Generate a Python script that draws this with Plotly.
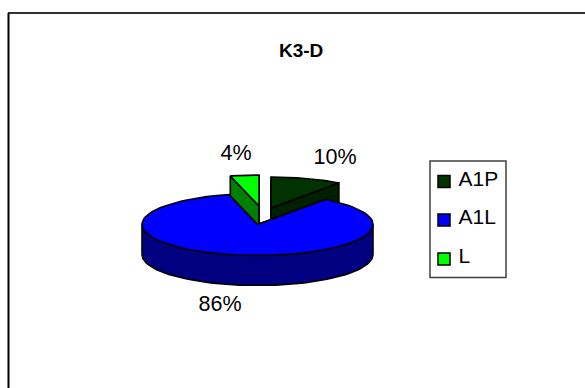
import math
import plotly.graph_objects as go

# Chart content
title = "K3-D"
categories = ["A1P", "A1L", "L"]
values = [10, 86, 4]
top_colors = ["#003300", "#0000FF", "#00FF00"]
wall_colors = ["#002000", "#000080", "#008000"]

# Pie geometry in pixels: the axes below run 1:1 with the page
RX, RY, DEPTH = 115.5, 31, 30
CENTERS = {"A1P": (271, 208), "A1L": (257.5, 224.5), "L": (259, 206)}
LABEL_POS = {"A1P": (335, 159), "A1L": (220, 306), "L": (236, 155)}


def rim(cx, cy, a, b, n=80):
    """Points on the ellipse rim between clockwise angles a and b (degrees from 12 o'clock)."""
    pts = []
    for i in range(n + 1):
        t = math.radians(a + (b - a) * i / n)
        pts.append((cx + RX * math.sin(t), cy - RY * math.cos(t)))
    return pts


def polygon(fig, pts, color):
    xs = [p[0] for p in pts] + [pts[0][0]]
    ys = [p[1] for p in pts] + [pts[0][1]]
    fig.add_trace(go.Scatter(x=xs, y=ys, mode="lines", fill="toself", fillcolor=color,
                             line=dict(color="black", width=1.6), hoverinfo="skip", showlegend=False))


def draw_slice(fig, name, a, b, top, wall):
    cx, cy = CENTERS[name]
    arc = rim(cx, cy, a, b)
    # Radial cut walls first, then the outer wall where it faces the viewer, then the top face
    for ang in (a, b):
        edge = rim(cx, cy, ang, ang, 1)[0]
        polygon(fig, [(cx, cy), edge, (edge[0], edge[1] + DEPTH), (cx, cy + DEPTH)], wall)
    lo, hi = max(a, 90), min(b, 270)
    if hi > lo:
        front = rim(cx, cy, lo, hi)
        polygon(fig, front + [(x, y + DEPTH) for x, y in reversed(front)], wall)
    polygon(fig, [(cx, cy)] + arc, top)


fig = go.Figure()

# Slices run clockwise from 12 o'clock; the exploded ones sit behind the large one
total = sum(values)
spans = {}
start = 0.0
for name, v in zip(categories, values):
    spans[name] = (start, start + 360 * v / total)
    start = spans[name][1]

for name in ["A1P", "L", "A1L"]:
    i = categories.index(name)
    draw_slice(fig, name, *spans[name], top_colors[i], wall_colors[i])

# Percentage labels
for name, v in zip(categories, values):
    x, y = LABEL_POS[name]
    fig.add_trace(go.Scatter(x=[x], y=[y], mode="text", text=[f"{v}%"],
                             textfont=dict(family="Liberation Sans", size=21.5, color="black"),
                             hoverinfo="skip", showlegend=False))

# Legend box with square keys
legend_y = [181.5, 220, 259]
label_y = [180.5, 219, 258]
fig.add_shape(type="rect", x0=430, y0=161, x1=506, y1=277.5,
              line=dict(color="#404040", width=1.5), fillcolor="white", layer="below")
fig.add_trace(go.Scatter(x=[444] * 3, y=legend_y, mode="markers",
                         marker=dict(symbol="square", size=12, color=top_colors,
                                     line=dict(color="black", width=1.5)),
                         hoverinfo="skip", showlegend=False))
fig.add_trace(go.Scatter(x=[458.5] * 3, y=label_y, mode="text", text=categories,
                         textposition="middle right",
                         textfont=dict(family="Liberation Sans", size=21, color="black"),
                         hoverinfo="skip", showlegend=False))

fig.update_layout(
    width=585, height=388, margin=dict(l=0, r=0, t=0, b=0),
    paper_bgcolor="white", plot_bgcolor="white", showlegend=False,
    xaxis=dict(range=[0, 585], visible=False, fixedrange=True),
    yaxis=dict(range=[388, 0], visible=False, fixedrange=True),
    annotations=[dict(x=300.5, y=50, text=f"<b>{title}</b>", showarrow=False,
                      font=dict(family="Liberation Sans", size=19, color="black"))],
)
# Outer chart frame: open on the sides cropped by the page
fig.add_shape(type="line", x0=8, y0=13, x1=585, y1=13, line=dict(color="#303030", width=2))
fig.add_shape(type="line", x0=8.5, y0=13, x1=8.5, y1=388, line=dict(color="black", width=2))

fig.write_html("out.html")
